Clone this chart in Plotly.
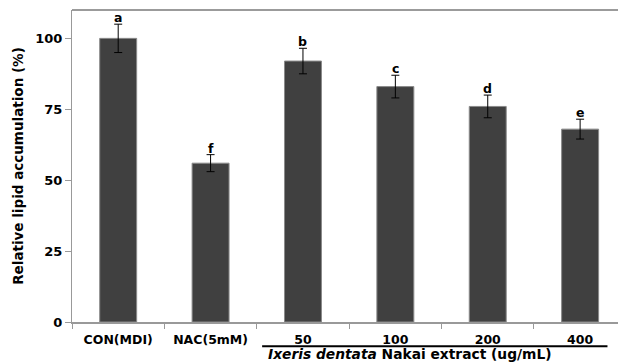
import plotly.graph_objects as go

categories = ["CON(MDI)", "NAC(5mM)", "50", "100", "200", "400"]
values = [100, 56, 92, 83, 76, 68]
errors = [5, 3, 4.5, 4, 4, 3.5]
letters = ["a", "f", "b", "c", "d", "e"]
y_ticks = [0, 25, 50, 75, 100]
group_label = "<i>Ixeris dentata</i> Nakai extract (ug/mL)"

FONT = "DejaVu Sans"

fig = go.Figure()
fig.add_trace(go.Bar(
    x=categories, y=values, width=0.4,
    marker=dict(color="#404040", line=dict(color="#8a8a8a", width=1)),
    error_y=dict(type="data", array=errors, color="black", thickness=1, width=4),
    showlegend=False,
))

for i, (v, e, l) in enumerate(zip(values, errors, letters)):
    fig.add_annotation(x=i, y=v + e, text="<b>%s</b>" % l, showarrow=False,
                       yanchor="bottom", yshift=-3,
                       font=dict(family=FONT, size=12.5, color="black"))

# top border of plot area
fig.add_shape(type="line", xref="paper", yref="paper", x0=0, x1=1.02, y0=1, y1=1,
              line=dict(color="#7a7a7a", width=1.5))
# underline for extract group
fig.add_shape(type="line", xref="x", yref="paper", x0=1.558, x1=5.296, y0=-0.0775, y1=-0.0775,
              line=dict(color="black", width=2))
fig.add_annotation(x=3.16, y=-0.103, xref="x", yref="paper", text="<b>" + group_label + "</b>",
                   showarrow=False, yanchor="middle",
                   font=dict(family=FONT, size=13.8, color="black"))

fig.update_layout(
    width=618, height=364,
    margin=dict(l=72, r=0, t=10, b=42),
    plot_bgcolor="white", paper_bgcolor="white",
    font=dict(family=FONT, color="black"),
)
fig.update_xaxes(
    range=[-0.5, 5.41], tickson="boundaries", ticks="outside", ticklen=5,
    tickcolor="#999999", showline=True, linecolor="#999999", linewidth=1.5, mirror=False,
    tickfont=dict(family=FONT, size=12.5, color="black", weight="bold"),
    ticklabelstandoff=5, showgrid=False,
)
fig.update_yaxes(
    range=[0, 110], tickvals=y_ticks, ticks="outside", ticklen=6, tickcolor="#999999",
    showline=True, linecolor="#999999", linewidth=1, showgrid=False, zeroline=False,
    tickfont=dict(family=FONT, size=13, color="black", weight="bold"),
    title=dict(text="<b>Relative lipid accumulation (%)</b>", standoff=8,
               font=dict(family=FONT, size=13.5, color="black")),
)

fig.write_html("out.html", config={"displayModeBar": False},
               post_script="document.body.style.margin='0';document.body.style.overflow='hidden';"
                           "document.documentElement.style.overflow='hidden';")
